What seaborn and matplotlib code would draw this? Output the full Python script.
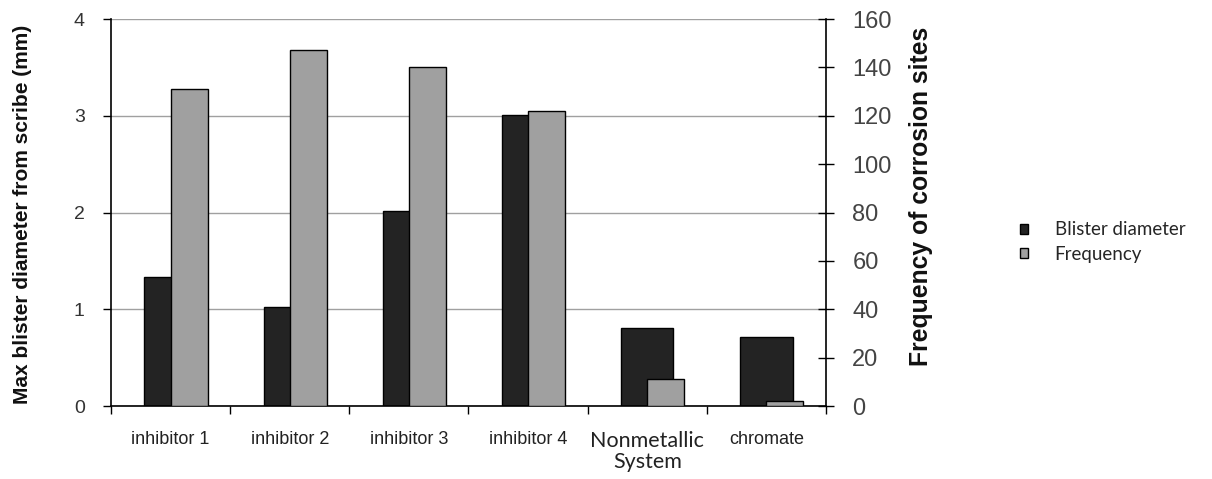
import matplotlib
matplotlib.use("Agg")
import matplotlib.pyplot as plt
import matplotlib.font_manager as fm
from matplotlib.ticker import FixedLocator
import seaborn as sns
import pandas as pd

categories = ["inhibitor 1", "inhibitor 2", "inhibitor 3", "inhibitor 4", "Nonmetallic\nSystem", "chromate"]
blister_diameter = [1.33, 1.02, 2.02, 3.01, 0.81, 0.71]
frequency = [131, 147, 140, 122, 11, 2]
left_ticks = [0, 1, 2, 3, 4]
right_ticks = [0, 20, 40, 60, 80, 100, 120, 140, 160]

sns.set_theme(style="white")
plt.rcParams['font.family'] = ['Liberation Sans', 'DejaVu Sans']

names = {f.name for f in fm.fontManager.ttflist}
narrow = 'Liberation Sans Narrow' if 'Liberation Sans Narrow' in names else 'Liberation Sans'

df = pd.DataFrame({"cat": categories, "blister": blister_diameter, "freq": frequency})

fig = plt.figure(figsize=(12.12, 4.79), dpi=100)
ax = fig.add_axes([0.0916, 0.1524, 0.5899, 0.8079])
ax.set_axisbelow(True)
sns.barplot(data=df, x="cat", y="blister", color="#232323", width=0.44, saturation=1,
            edgecolor="black", linewidth=1, ax=ax)
ax2 = ax.twinx()
sns.barplot(data=df, x="cat", y="freq", color="#a0a0a0", width=0.31, saturation=1,
            edgecolor="black", linewidth=1, ax=ax2)
for p in ax2.patches:
    p.set_x(p.get_x() + p.get_width() / 2)

ax.set_xlim(-0.5, len(categories) - 0.5)
ax.set_ylim(0, 4)
ax2.set_ylim(0, 160)
ax.set_yticks(left_ticks)
ax2.set_yticks(right_ticks)
ax.yaxis.grid(True, color="#a0a0a0", linewidth=1)
ax.xaxis.grid(False)
ax2.grid(False)

ax.set_xlabel("")
ax.set_ylabel("")
ax2.set_xlabel("")
ax2.set_ylabel("")

for s in ["top", "right"]:
    ax.spines[s].set_visible(False)
for s in ["top", "left", "bottom"]:
    ax2.spines[s].set_visible(False)
ax.spines["left"].set_color("black")
ax.spines["bottom"].set_color("black")
ax2.spines["right"].set_color("black")
for sp in [ax.spines["left"], ax.spines["bottom"], ax2.spines["right"]]:
    sp.set_linewidth(1.2)

# x ticks: labels at centres, tick marks at boundaries
ax.set_xticks(range(len(categories)))
ax.set_xticklabels(categories)
ax.tick_params(axis="x", which="major", length=0, pad=18)
ax.xaxis.set_minor_locator(FixedLocator([i - 0.5 for i in range(len(categories) + 1)]))
ax.tick_params(axis="x", which="minor", bottom=True, length=6, width=1, color="black", direction="out")
for i, t in enumerate(ax.get_xticklabels()):
    if "Nonmetallic" in t.get_text():
        t.set_fontfamily(['Lato', 'DejaVu Sans'])
        t.set_fontsize(15.5)
        t.set_linespacing(1.05)
    else:
        t.set_fontfamily([narrow, 'DejaVu Sans'])
        t.set_fontsize(13)
    t.set_color("#222222")

ax.tick_params(axis="y", left=True, length=6, width=1, color="black", direction="out",
               pad=13, labelsize=14, labelcolor="#333333")
for t in ax.get_yticklabels():
    t.set_fontfamily([narrow, 'DejaVu Sans'])
ax2.tick_params(axis="y", right=True, length=12, width=1, color="black", direction="inout",
                pad=13, labelsize=17, labelcolor="#444444")

fig.text(23 / 1212, 1 - 214 / 479, "Max blister diameter from scribe (mm)", rotation=90,
         ha="center", va="center", fontsize=15, fontweight="bold", color="#111111")
fig.text(921 / 1212, 1 - 196 / 479, "Frequency of corrosion sites", rotation=90,
         ha="center", va="center", fontsize=17.8, fontweight="bold", color="#111111")

handles = [ax.patches[0], ax2.patches[0]]
leg = fig.legend(handles, ["Blister diameter", "Frequency"], loc="center left",
                 bbox_to_anchor=(1003 / 1212, 1 - 242 / 479), frameon=False,
                 handlelength=0.45, handleheight=0.45, handletextpad=1.4, labelspacing=0.4,
                 prop={"family": ["Lato", "DejaVu Sans"], "size": 13.5})

fig.savefig("out.png", dpi=100)
